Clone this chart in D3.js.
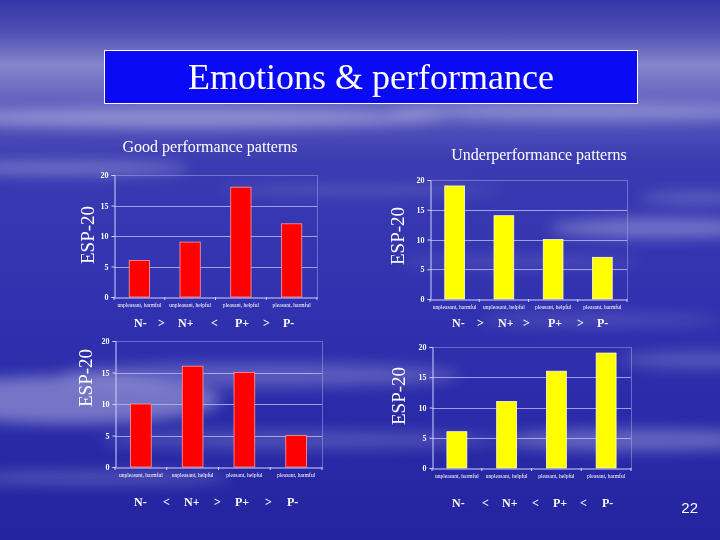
<!DOCTYPE html>
<html>
<head>
<meta charset="utf-8">
<script src="https://cdn.jsdelivr.net/npm/d3@7"></script>
<style>
  html, body { margin: 0; padding: 0; background: #2a2aa8; }
  svg { display: block; }
</style>
</head>
<body>
<script>
// ---------------- data ----------------
const slideTitle = "Emotions & performance";
const leftHeading = "Good performance patterns";
const rightHeading = "Underperformance patterns";
const yAxisLabel = "ESP-20";
const pageNumber = "22";

const categories = ["unpleasant, harmful", "unpleasant, helpful", "pleasant, helpful", "pleasant, harmful"];
const yTicks = [0, 5, 10, 15, 20];

const goodTopValues = [6, 9, 18, 12];
const goodBottomValues = [10, 16, 15, 5];
const underTopValues = [19, 14, 10, 7];
const underBottomValues = [6, 11, 16, 19];

const goodTopPattern = ["N-", ">", "N+", "<", "P+", ">", "P-"];
const goodBottomPattern = ["N-", "<", "N+", ">", "P+", ">", "P-"];
const underTopPattern = ["N-", ">", "N+", ">", "P+", ">", "P-"];
const underBottomPattern = ["N-", "<", "N+", "<", "P+", "<", "P-"];

// ---------------- layout ----------------
const W = 720, H = 540;
const svg = d3.select("body").append("svg").attr("width", W).attr("height", H);
const defs = svg.append("defs");

const bg = defs.append("linearGradient").attr("id", "bg").attr("x1", 0).attr("y1", 0).attr("x2", 0).attr("y2", 1);
[[0, "#3535a8"], [0.06, "#5050b4"], [0.12, "#8585cc"], [0.2, "#5a5abd"], [0.3, "#3a3ab2"],
 [0.55, "#3232b0"], [0.8, "#2a2aa8"], [1, "#2424a0"]]
  .forEach(([o, c]) => bg.append("stop").attr("offset", o).attr("stop-color", c));

const blur = defs.append("filter").attr("id", "blur").attr("x", "-50%").attr("y", "-50%").attr("width", "200%").attr("height", "200%");
blur.append("feGaussianBlur").attr("stdDeviation", 7);

svg.append("rect").attr("width", W).attr("height", H).attr("fill", "url(#bg)");

// decorative cloud streaks
const clouds = [
  [180, 118, 260, 10, 0.35], [590, 112, 200, 9, 0.3], [60, 168, 130, 7, 0.3], [360, 190, 140, 5, 0.15],
  [660, 228, 110, 10, 0.3], [700, 198, 60, 5, 0.25], [70, 400, 150, 24, 0.35], [260, 375, 200, 12, 0.22],
  [300, 440, 200, 9, 0.18], [640, 440, 140, 11, 0.28], [90, 478, 140, 7, 0.2], [520, 262, 120, 5, 0.15],
  [600, 320, 120, 6, 0.15], [700, 360, 80, 8, 0.2]
];
svg.append("g").attr("filter", "url(#blur)").selectAll("ellipse").data(clouds).join("ellipse")
  .attr("cx", d => d[0]).attr("cy", d => d[1]).attr("rx", d => d[2]).attr("ry", d => d[3])
  .attr("fill", "#ffffff").attr("opacity", d => d[4]);

// title box
svg.append("rect").attr("x", 104.5).attr("y", 50.5).attr("width", 533).attr("height", 53)
  .attr("fill", "#0a0af5").attr("stroke", "#ffffff").attr("stroke-width", 1);
svg.append("text").attr("x", 371).attr("y", 89).attr("text-anchor", "middle")
  .attr("font-family", "Liberation Serif, Times New Roman, serif").attr("font-size", 36)
  .attr("fill", "#ffffff").text(slideTitle);

const serif = "Liberation Serif, Times New Roman, serif";
svg.append("text").attr("x", 210).attr("y", 152).attr("text-anchor", "middle")
  .attr("font-family", serif).attr("font-size", 16).attr("fill", "#ffffff").text(leftHeading);
svg.append("text").attr("x", 539).attr("y", 160).attr("text-anchor", "middle")
  .attr("font-family", serif).attr("font-size", 16).attr("fill", "#ffffff").text(rightHeading);

svg.append("text").attr("x", 698).attr("y", 513).attr("text-anchor", "end")
  .attr("font-family", "Liberation Sans, Arial, sans-serif").attr("font-size", 15)
  .attr("fill", "#ffffff").text(pageNumber);

const charts = [
  { values: goodTopValues, x0: 114, x1: 317, yTop: 175, yZero: 297, color: "#ff0000", stroke: "#ff9a9a",
    labelX: 94, labelY: 235, pattern: goodTopPattern, patX: [134, 158, 178, 211, 235, 263, 283], patY: 327 },
  { values: underTopValues, x0: 430, x1: 627, yTop: 180, yZero: 299, color: "#ffff00", stroke: "#ffffc8",
    labelX: 404, labelY: 236, pattern: underTopPattern, patX: [452, 477, 498, 523, 548, 577, 597], patY: 327 },
  { values: goodBottomValues, x0: 115, x1: 322, yTop: 341, yZero: 467, color: "#ff0000", stroke: "#ff9a9a",
    labelX: 92, labelY: 378, pattern: goodBottomPattern, patX: [134, 163, 184, 214, 235, 265, 287], patY: 506 },
  { values: underBottomValues, x0: 432, x1: 631, yTop: 347, yZero: 468, color: "#ffff00", stroke: "#ffffc8",
    labelX: 405, labelY: 396, pattern: underBottomPattern, patX: [452, 482, 502, 532, 553, 580, 602], patY: 507 }
];

const gridColor = "#b4b4f2";

charts.forEach(c => {
  const g = svg.append("g");
  const x = d3.scaleBand().domain(categories).range([c.x0, c.x1]).paddingInner(0.6).paddingOuter(0.3);
  const y = d3.scaleLinear().domain([0, 20]).range([c.yZero, c.yTop]);

  // gridlines
  g.selectAll("line.grid").data(yTicks.filter(t => t > 0)).join("line")
    .attr("x1", c.x0).attr("x2", c.x1)
    .attr("y1", d => Math.round(y(d)) + 0.5).attr("y2", d => Math.round(y(d)) + 0.5)
    .attr("stroke", gridColor).attr("stroke-width", 1).attr("opacity", d => d === 20 ? 0.45 : 0.85);
  // right frame
  g.append("line").attr("x1", c.x1 + 0.5).attr("x2", c.x1 + 0.5).attr("y1", c.yTop).attr("y2", c.yZero)
    .attr("stroke", gridColor).attr("opacity", 0.45);

  // bars
  g.selectAll("rect.bar").data(c.values).join("rect")
    .attr("x", (d, i) => x(categories[i])).attr("width", x.bandwidth())
    .attr("y", d => y(d)).attr("height", d => y(0) - y(d))
    .attr("fill", c.color).attr("stroke", c.stroke).attr("stroke-width", 0.8);

  // y axis
  const ya = g.append("g").attr("transform", `translate(${c.x0 + 0.5},0)`)
    .call(d3.axisLeft(y).tickValues(yTicks).tickSize(3).tickPadding(3));
  ya.select(".domain").attr("stroke", "#d0d0ff");
  ya.selectAll(".tick line").attr("stroke", "#d0d0ff");
  ya.selectAll(".tick text").attr("fill", "#ffffff").attr("font-family", serif)
    .attr("font-size", 8).attr("font-weight", "bold");

  // x axis
  const xa = g.append("g").attr("transform", `translate(0,${Math.round(c.yZero) + 0.5})`)
    .call(d3.axisBottom(x).tickSize(0).tickPadding(6));
  xa.select(".domain").attr("stroke", "#d0d0ff");
  xa.selectAll(".tick text").attr("fill", "#ffffff").attr("font-family", serif).attr("font-size", 5.5);
  const step = x.step();
  g.selectAll("line.xt").data(d3.range(categories.length + 1)).join("line")
    .attr("x1", i => c.x0 + i * step).attr("x2", i => c.x0 + i * step)
    .attr("y1", Math.round(c.yZero)).attr("y2", Math.round(c.yZero) + 3)
    .attr("stroke", "#d0d0ff");

  // y label
  svg.append("text").attr("transform", `translate(${c.labelX},${c.labelY}) rotate(-90)`)
    .attr("text-anchor", "middle").attr("font-family", serif).attr("font-size", 19)
    .attr("fill", "#ffffff").text(yAxisLabel);

  // pattern line
  svg.append("g").selectAll("text").data(c.pattern).join("text")
    .attr("x", (d, i) => c.patX[i]).attr("y", c.patY)
    .attr("font-family", serif).attr("font-size", 12).attr("font-weight", "bold")
    .attr("fill", "#ffffff").text(d => d);
});
</script>
</body>
</html>
